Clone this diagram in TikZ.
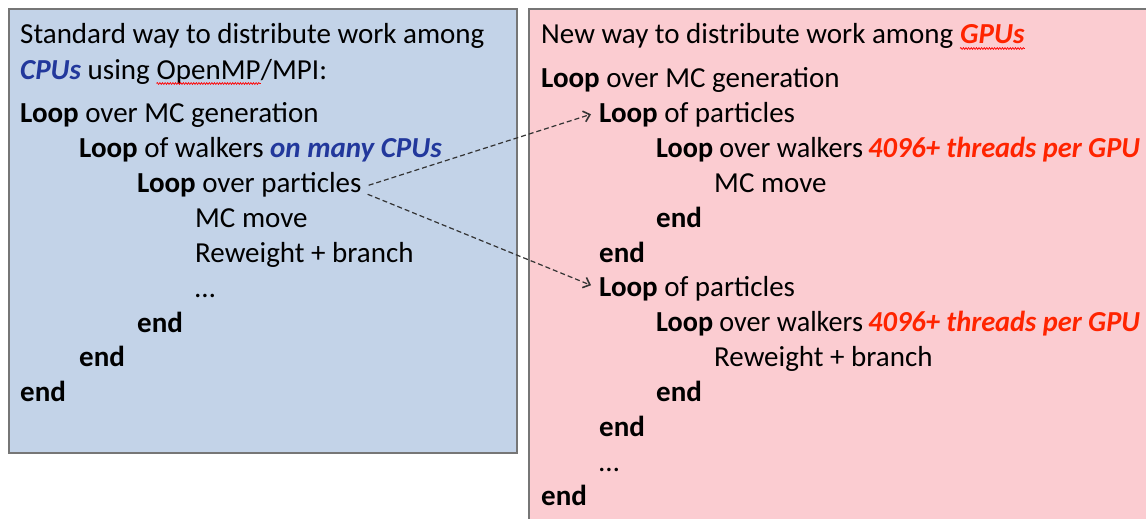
\documentclass[tikz,border=0pt]{standalone}
\usepackage{fontspec}
\usepackage{graphicx}
\setmainfont{Carlito}
\usetikzlibrary{arrows.meta,decorations.pathmorphing}
\definecolor{bluefill}{HTML}{C3D3E8}
\definecolor{redfill}{HTML}{FBCCD1}
\definecolor{boxline}{HTML}{767676}
\definecolor{cpublue}{HTML}{22389C}
\definecolor{gpured}{HTML}{FF2400}
\definecolor{arrowgray}{HTML}{333333}
\tikzset{
  txt/.style={anchor=base west, inner sep=0pt, font=\fontsize{29}{35}\selectfont},
  panel/.style={draw=boxline, line width=1.6pt},
  conn/.style={draw=arrowgray, line width=1.2pt, dash pattern=on 5pt off 3pt, -{Straight Barb[length=6pt,width=11pt,line width=1.6pt]}},
  squig/.style={draw=red, line width=0.7pt, decorate, decoration={snake, amplitude=0.9pt, segment length=2.6pt}}
}
\newcommand{\kw}[1]{\textbf{#1}}
\newcommand{\cpu}[1]{\textcolor{cpublue}{\textbf{\textit{#1}}}}
\newcommand{\gpu}[1]{\textcolor{gpured}{\textbf{\textit{#1}}}}
\newcommand{\threads}{\scalebox{0.98}[1]{\gpu{4096+ threads per GPU}}}
\newcommand{\walkers}{\scalebox{0.972}[1]{\kw{Loop} over walkers}}
\begin{document}
\begin{tikzpicture}[x=1pt,y=-1pt]
\useasboundingbox (0,0) rectangle (1146,519);
\clip (0,0) rectangle (1146,519);
% panels
\path[panel, fill=bluefill] (9,9) rectangle (517,453);
\path[panel, fill=redfill] (529,9) rectangle (1160,530);
% left panel text
\node[txt] (l1) at (20,44) {Standard way to distribute work among};
\node[txt] (l2a) at (20,79) {\cpu{CPUs} using};
\node[txt] (l2b) at ([xshift=6.5pt]l2a.base east) {OpenMP};
\node[txt] (l2c) at (l2b.base east) {/MPI:};
\node[txt] (l3) at (20,122) {\kw{Loop} over MC generation};
\node[txt] (l4) at (79,157) {\kw{Loop} of walkers \cpu{on many CPUs}};
\node[txt] (lp) at (137,192) {\kw{Loop} over particles};
\node[txt] (l6) at (195,227) {MC move};
\node[txt] (l7) at (195,262) {Reweight + branch};
\node[txt] (l8) at (195,297) {…};
\node[txt] (l9) at (137,332) {\kw{end}};
\node[txt] (l10) at (79,366) {\kw{end}};
\node[txt] (l11) at (20,401) {\kw{end}};
% right panel text
\node[txt] (r1a) at (541,44) {New way to distribute work among};
\node[txt] (r1b) at ([xshift=6.5pt]r1a.base east) {\gpu{GPUs}};
\node[txt] (r2) at (541,88) {\kw{Loop} over MC generation};
\node[txt] (rp1) at (599,122) {\kw{Loop} of particles};
\node[txt] (r4a) at (656,157) {\walkers};
\node[txt] (r4b) at (868,157) {\threads};
\node[txt] (r5) at (714,192) {MC move};
\node[txt] (r6) at (656,227) {\kw{end}};
\node[txt] (r7) at (599,262) {\kw{end}};
\node[txt] (rp2) at (599,296) {\kw{Loop} of particles};
\node[txt] (r9a) at (656,331) {\walkers};
\node[txt] (r9b) at (868,331) {\threads};
\node[txt] (r10) at (714,366) {Reweight + branch};
\node[txt] (r11) at (656,401) {\kw{end}};
\node[txt] (r12) at (599,436) {\kw{end}};
\node[txt] (r13) at (599,471) {…};
\node[txt] (r14) at (541,505) {\kw{end}};
% spell-check squiggles
\draw[squig] ([yshift=-4.5pt]l2b.base west) -- ([yshift=-4.5pt]l2b.base east);
\draw[squig] ([yshift=-4.5pt]r1b.base west) -- ([yshift=-4.5pt]r1b.base east);
% connectors
\draw[conn] ([xshift=7pt,yshift=-1pt]lp.east) -- ([xshift=-8pt]rp1.west);
\draw[conn] ([xshift=6pt,yshift=-10pt]lp.east) -- ([xshift=-8pt,yshift=3pt]rp2.west);
\end{tikzpicture}
\end{document}
